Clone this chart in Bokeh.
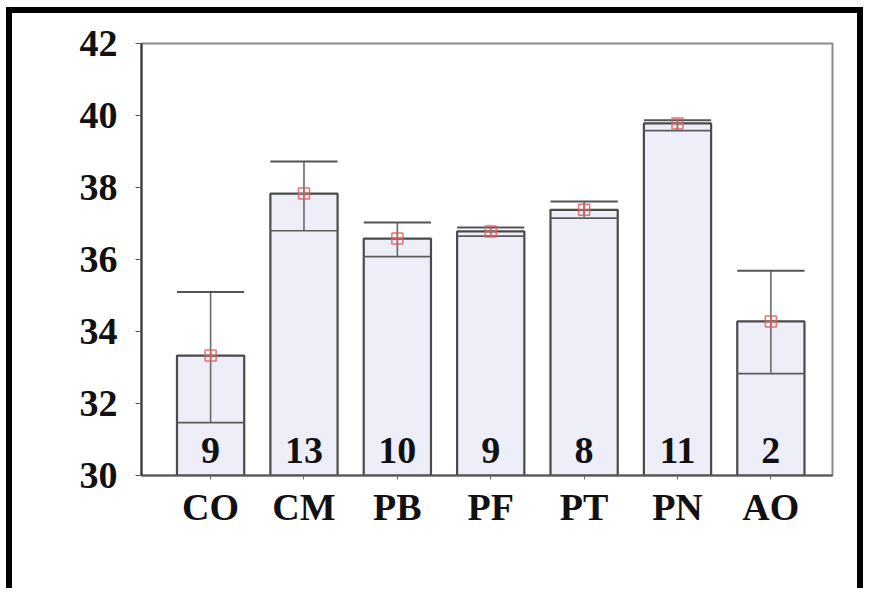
from bokeh.plotting import figure
from bokeh.models import Range1d, FixedTicker, ColumnDataSource
from bokeh.core.properties import value
from bokeh.embed import file_html
from bokeh.resources import INLINE

categories = ["CO", "CM", "PB", "PF", "PT", "PN", "AO"]
means = [33.33, 37.83, 36.58, 36.78, 37.38, 39.78, 34.28]
lower = [31.47, 36.80, 36.08, 36.65, 37.15, 39.58, 32.83]
upper = [35.10, 38.72, 37.03, 36.89, 37.61, 39.87, 35.69]
counts = [9, 13, 10, 9, 8, 11, 2]
y_ticks = [30, 32, 34, 36, 38, 40, 42]

xs = list(range(len(categories)))
src = ColumnDataSource(dict(
    x=xs, mean=means, lo=lower, hi=upper, n=[str(c) for c in counts],
    base=[30] * len(xs),
))

FONT = value("Liberation Serif")

p = figure(
    output_backend="svg", toolbar_location=None,
    frame_width=691, frame_height=432,
    min_border_left=129, min_border_right=25,
    min_border_top=30, min_border_bottom=113,
    x_range=Range1d(-0.74, 6.66), y_range=Range1d(30, 42),
)
p.styles = {"border-top": "6px solid black", "border-left": "6px solid black",
            "border-right": "6px solid black", "margin-left": "6px",
            "margin-top": "7px"}

p.grid.visible = False
p.outline_line_color = "#8a8a8a"
p.outline_line_width = 2

bw = 0.72
p.vbar(x="x", top="mean", bottom="base", width=bw, source=src,
       fill_color="#eeeef9", line_color="#4a4a4a", line_width=2.2)
# lower bound line across bar
p.segment(x0=[x - bw / 2 for x in xs], x1=[x + bw / 2 for x in xs],
          y0=lower, y1=lower, line_color="#5a5a5a", line_width=1.6)
# whisker
p.segment(x0="x", x1="x", y0="lo", y1="hi", source=src,
          line_color="#6a6a6a", line_width=1.6)
# cap
p.segment(x0=[x - bw / 2 for x in xs], x1=[x + bw / 2 for x in xs],
          y0=upper, y1=upper, line_color="#555555", line_width=2)
# mean markers
p.scatter(x="x", y="mean", source=src, marker="square_cross", size=11,
          fill_color=None, line_color="#e05a5a", line_width=1.5, line_alpha=0.85)
# counts
p.text(x="x", y=30.69, text="n", source=src, text_align="center",
       text_baseline="alphabetic", text_font=FONT, text_font_style="bold",
       text_font_size="38px", text_color="#111111")

p.yaxis.ticker = FixedTicker(ticks=y_ticks)
p.yaxis.minor_tick_line_color = None
p.yaxis.major_tick_out = 6
p.yaxis.major_tick_in = 0
p.yaxis.major_tick_line_color = "#555555"
p.yaxis.axis_line_color = "#333333"
p.yaxis.axis_line_width = 2
p.yaxis.major_label_text_font = "Liberation Serif"
p.yaxis.major_label_text_font_style = "bold"
p.yaxis.major_label_text_font_size = "38px"
p.yaxis.major_label_text_color = "#111111"
p.yaxis.major_label_standoff = 18

p.xaxis.ticker = FixedTicker(ticks=xs)
p.xaxis.major_label_overrides = {i: c for i, c in enumerate(categories)}
p.xaxis.minor_tick_line_color = None
p.xaxis.major_tick_out = 4
p.xaxis.major_tick_in = 0
p.xaxis.major_tick_line_color = "#666666"
p.xaxis.axis_line_color = "#555555"
p.xaxis.axis_line_width = 2
p.xaxis.major_label_text_font = "Liberation Serif"
p.xaxis.major_label_text_font_style = "bold"
p.xaxis.major_label_text_font_size = "38px"
p.xaxis.major_label_text_color = "#111111"
p.xaxis.major_label_standoff = 6

open("out.html", "w").write(file_html(p, INLINE))
